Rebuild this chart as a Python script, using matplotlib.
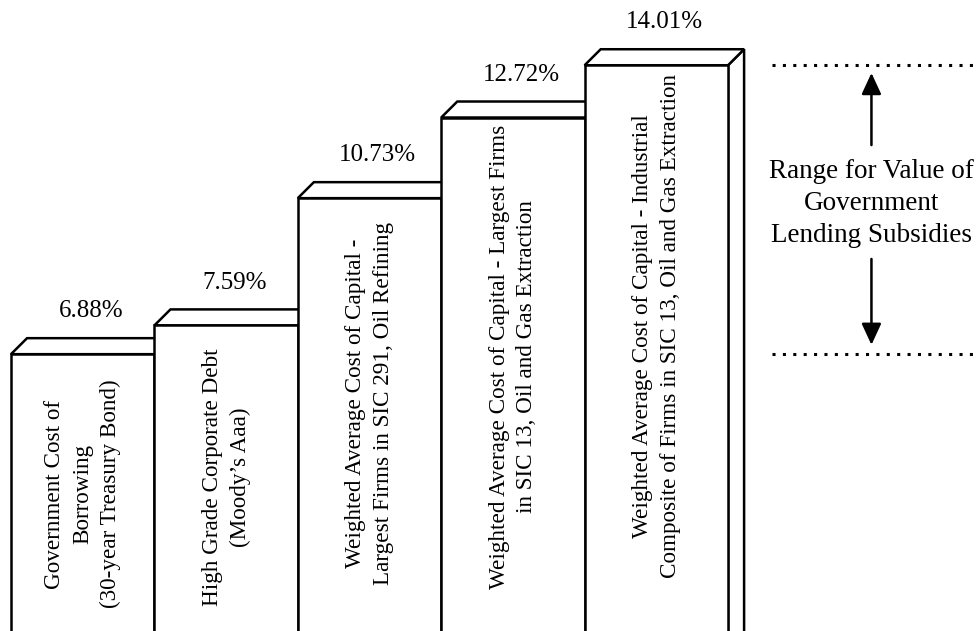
import matplotlib.pyplot as plt
from matplotlib.patches import Polygon

# cost of capital figures (percent)
labels = [
    'Government Cost of\nBorrowing\n(30-year Treasury Bond)',
    'High Grade Corporate Debt\n(Moody\u2019s Aaa)',
    'Weighted Average Cost of Capital -\nLargest Firms in SIC 291, Oil Refining',
    'Weighted Average Cost of Capital - Largest Firms\nin SIC 13, Oil and Gas Extraction',
    'Weighted Average Cost of Capital - Industrial\nComposite of Firms in SIC 13, Oil and Gas Extraction',
]
values = [6.88, 7.59, 10.73, 12.72, 14.01]
range_text = 'Range for Value of\nGovernment\nLending Subsidies'

plt.rcParams['font.family'] = ['Liberation Serif', 'DejaVu Serif']

fig = plt.figure(figsize=(9.79, 6.31), dpi=100)
ax = fig.add_axes([0, 0, 1, 1])
ax.set_xlim(-0.0767, 6.75)
ax.set_ylim(0.049, 15.62)
ax.axis('off')

# depth of the fake 3d faces
dx, dy = 0.112, 0.395
lw = 1.8

for i, (lab, v) in enumerate(zip(labels, values)):
    x0, x1 = i, i + 1
    z = 2 + i
    front = [(x0, -1), (x0, v), (x1, v), (x1, -1)]
    top = [(x0, v), (x0 + dx, v + dy), (x1 + dx, v + dy), (x1, v)]
    side = [(x1, -1), (x1, v), (x1 + dx, v + dy), (x1 + dx, -1 + dy)]
    for pts in (side, top, front):
        ax.add_patch(Polygon(pts, closed=True, facecolor='white',
                             edgecolor='black', lw=lw, joinstyle='miter', zorder=z))
    ax.text(x0 + 0.5 + dx / 2, v + dy + 0.66, f'{v:.2f}%', ha='center',
            va='center', fontsize=18, zorder=10)
    # text sits a little above the middle of taller bars
    ax.text(x0 + 0.5, v / 2 + 0.08 * (v - 7), lab, rotation=90, ha='center',
            va='center', multialignment='center', fontsize=16.7,
            linespacing=1.42, zorder=10)

# range annotation on the right
lo, hi = values[0], values[-1]
for yv in (lo, hi):
    ax.plot([5.31, 6.75], [yv, yv], color='black', lw=2.2,
            linestyle=(0, (1, 2.4)), dash_capstyle='butt', zorder=1)

xa = 6.0
arrow = dict(arrowstyle='-|>,head_length=1.3,head_width=0.6',
             color='black', lw=1.8, shrinkA=0, shrinkB=0)
ax.annotate('', xy=(xa, hi - 0.19), xytext=(xa, 12.04), arrowprops=arrow)
ax.annotate('', xy=(xa, lo + 0.23), xytext=(xa, 9.23), arrowprops=arrow)
ax.text(xa, 10.6, range_text, ha='center', va='center', fontsize=19.5,
        linespacing=1.35)

fig.savefig('out.png', dpi=100)
